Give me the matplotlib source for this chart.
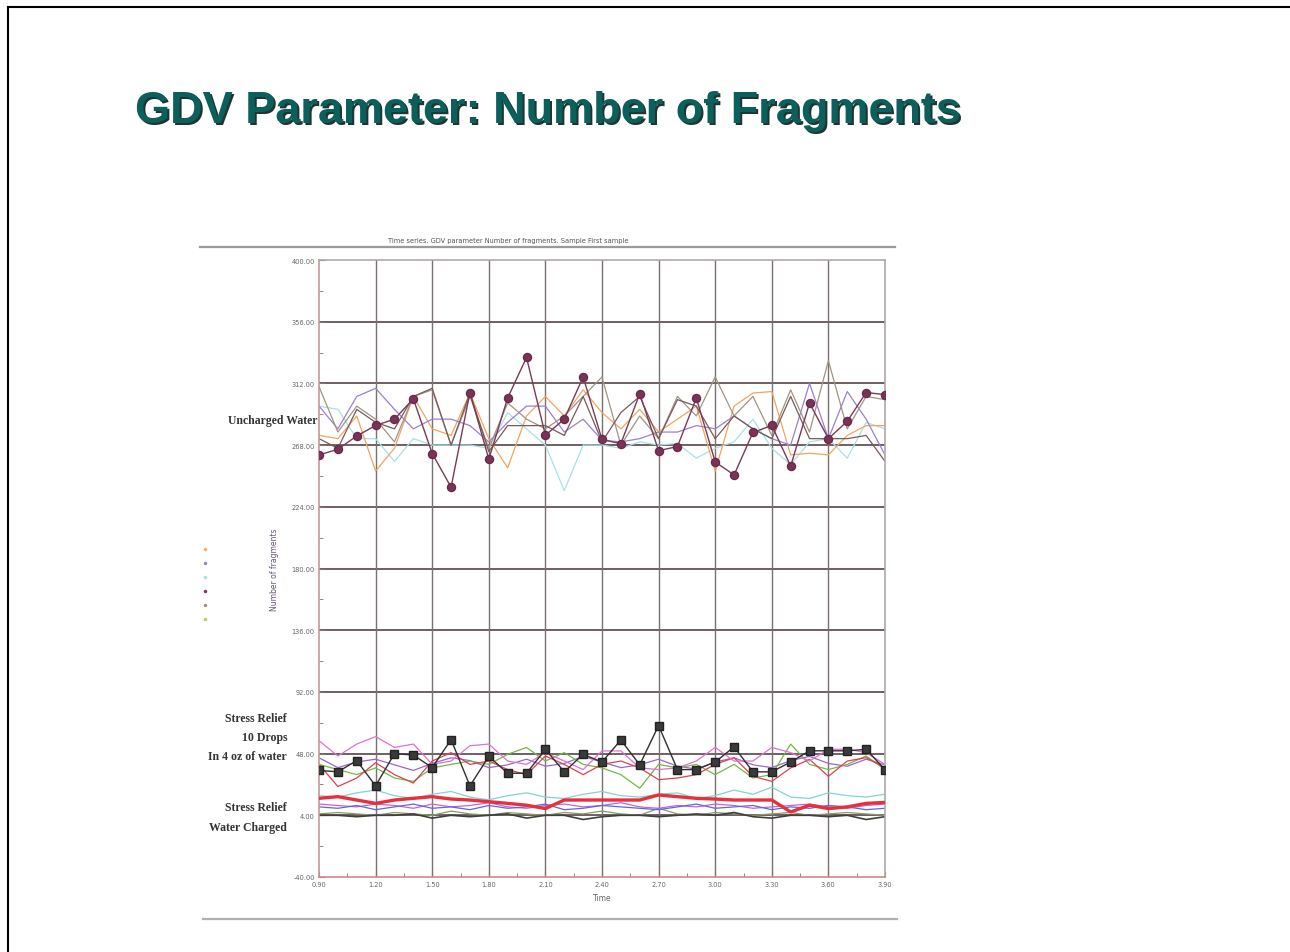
import matplotlib
matplotlib.use("Agg")
import matplotlib.pyplot as plt
from matplotlib.lines import Line2D
import numpy as np

# ---------------- data ----------------
time = [0.9, 1.0, 1.1, 1.2, 1.3, 1.4, 1.5, 1.6, 1.7, 1.8, 1.9, 2.0, 2.1, 2.2, 2.3, 2.4,
        2.5, 2.6, 2.7, 2.8, 2.9, 3.0, 3.1, 3.2, 3.3, 3.4, 3.5, 3.6, 3.7, 3.8, 3.9]

# Uncharged water group
unch_marked = [261, 265, 274.5, 282, 286.5, 301, 262, 238, 305.5, 258, 301.6, 330.5, 275, 286.5, 316.6, 272,
               269, 304.6, 264, 267, 301.6, 256, 246.7, 277, 282, 253, 298, 272.6, 285, 305.5, 304]
unch_orange = [275, 272.6, 288.8, 249.5, 265.7, 302.7, 279.6, 274.9, 305.1, 272.6, 251.8, 288.8, 302.7, 288.8, 307.4, 291.2,
               279.6, 293.5, 277.3, 286.5, 295.8, 249.5, 295.8, 305.1, 306.2, 261, 262.2, 261, 274.9, 281.9, 281.9]
unch_lavender = [295.8, 279.6, 302.7, 308.5, 293.5, 279.6, 286.5, 286.5, 281.9, 270.3, 284.2, 295.8, 295.8, 277.3, 286.5, 271.5,
                 270.3, 272.6, 277.3, 277.3, 281.9, 279.6, 288.8, 279.6, 272.6, 268, 312, 272.6, 306.2, 286.5, 261]
unch_cyan = [295.8, 293.5, 272.6, 272.6, 256.4, 272.6, 268, 268, 268, 265.7, 291.2, 279.6, 268, 235.6, 268, 268,
             265.7, 270.3, 268, 269.2, 258.7, 265.7, 270.3, 286.5, 265.7, 254.1, 270.3, 272.6, 258.7, 284.2, 279.6]
unch_olive = [309.7, 277.3, 295.8, 286.5, 270.3, 302.7, 307.4, 268, 302.7, 265.7, 298.1, 286.5, 279.6, 288.8, 302.7, 316.6,
              268, 288.8, 272.6, 302.7, 288.8, 316.6, 288.8, 302.7, 274.9, 307.4, 277.3, 328.2, 279.6, 302.7, 300.4]
unch_brown = [272.6, 265.7, 293.5, 284.2, 279.6, 302.7, 308.5, 268, 305.1, 263.4, 281.9, 281.9, 281.9, 274.9, 302.7, 270.3,
              291.2, 302.7, 272.6, 300.4, 295.8, 272.6, 288.8, 279.6, 272.6, 302.7, 272.6, 272.6, 272.6, 274.9, 256.4]

# Stress relief 10 drops group
drops_marked = [36, 35, 43, 25, 48, 47, 38, 58, 25, 46, 34, 34, 51, 35, 47.5, 42,
                57.7, 40, 68, 36.6, 36.6, 42, 52.8, 35, 35, 42, 50, 50, 50, 51, 36.6]
drops_pink = [57.2, 46.3, 54.8, 60.1, 52.4, 54.8, 40.3, 42.7, 53.6, 54.8, 42.7, 40.3, 48.7, 42.7, 36.6, 49.9,
              49.9, 37.8, 36.6, 37.8, 42.7, 52.4, 42.7, 42.7, 52.4, 48.7, 42.7, 51.1, 51.1, 48.7, 40.3]
drops_red = [40.3, 24.5, 30.6, 41.5, 33, 27, 42.7, 48.7, 40.3, 42.7, 36.6, 33, 46.3, 40.3, 33, 40.3,
             42.7, 37.8, 29.4, 30.6, 33, 40.3, 45.1, 31.8, 28.2, 37.8, 43.9, 31.8, 42.7, 45.1, 37.8]
drops_green = [40.3, 36.6, 33, 37.8, 30.6, 28.2, 37.8, 40.3, 42.7, 40.3, 47.5, 52.4, 42.7, 48.7, 40.3, 37.8,
               33, 23.3, 40.3, 37.8, 40.3, 33, 40.3, 30.6, 33, 54.8, 40.3, 36.6, 40.3, 46.3, 36.6]
drops_purple = [45, 38, 42, 44, 40, 36, 41, 45, 43, 38, 40, 44, 39, 41, 46, 42,
                38, 40, 44, 39, 37, 42, 45, 40, 38, 43, 46, 41, 39, 44, 40]

# Stress relief water charged group
charged_red = [16.1, 17.3, 14.9, 12.5, 14.9, 16.1, 17.3, 15.6, 14.9, 13.7, 12.5, 11.2, 8.8, 14.9, 14.9, 14.9,
               14.9, 14.9, 18.5, 17.3, 16.1, 15.6, 14.9, 14.9, 14.9, 6.4, 11.2, 8.8, 10, 12.5, 13.2]
charged_cyan = [18, 17, 20, 22, 18, 16, 19, 21, 17, 15, 18, 20, 17, 16, 19, 21,
                18, 17, 19, 20, 16, 18, 22, 19, 24, 17, 16, 20, 18, 17, 19]
charged_blue = [10, 9, 11, 8, 10, 12, 9, 10, 8, 11, 9, 10, 12, 8, 9, 11,
                10, 9, 8, 10, 12, 9, 10, 11, 8, 10, 9, 11, 10, 8, 9]
charged_magenta = [12, 11, 10, 12, 11, 9, 12, 10, 11, 13, 10, 9, 11, 12, 10, 11,
                   13, 10, 9, 11, 10, 12, 11, 9, 10, 11, 12, 10, 9, 11, 12]
charged_dark = [4, 4, 3, 4, 4, 5, 2, 4, 3, 4, 5, 2, 4, 4, 1, 3,
                4, 4, 3, 4, 5, 4, 6, 3, 2, 4, 4, 3, 4, 1, 3]
charged_olive = [5, 6, 5, 4, 6, 5, 4, 7, 5, 4, 6, 5, 4, 6, 5, 7,
                 5, 4, 9, 5, 4, 6, 5, 4, 5, 6, 4, 5, 6, 5, 4]

y_ticks = [400, 356, 312, 268, 224, 180, 136, 92, 48, 4, -40]
y_ticklabels = ["400.00", "356.00", "312.00", "268.00", "224.00", "180.00", "136.00",
                "92.00", "48.00", "4.00", "-40.00"]
x_ticks = [0.9, 1.2, 1.5, 1.8, 2.1, 2.4, 2.7, 3.0, 3.3, 3.6, 3.9]
x_ticklabels = ["0.90", "1.20", "1.50", "1.80", "2.10", "2.40", "2.70", "3.00", "3.30", "3.60", "3.90"]

slide_title = "GDV Parameter: Number of Fragments"
chart_title = "Time series. GDV parameter Number of fragments. Sample First sample"

# ---------------- figure ----------------
W, H = 1290, 953
fig = plt.figure(figsize=(W / 100, H / 100), dpi=100)
fig.patch.set_facecolor("white")

def fx(px):
    return px / W

def fy(py):
    return 1 - py / H

# slide border (top & left)
fig.add_artist(Line2D([fx(8), fx(8)], [fy(8), 0], color="black", lw=1.5, transform=fig.transFigure))
fig.add_artist(Line2D([fx(8), 1], [fy(8), fy(8)], color="black", lw=1.5, transform=fig.transFigure))

# slide title with shadow
for dx, dy, col in [(1.8, 1.8, "#223333"), (0, 0, "#0b605b")]:
    fig.text(fx(135 + dx), fy(112 + dy), slide_title, fontsize=32.5, fontweight="bold",
             family=["Liberation Sans", "DejaVu Sans"], color=col, ha="left", va="center")

# separator lines above/below chart
fig.add_artist(Line2D([fx(200), fx(895)], [fy(248), fy(248)], color="#9a9a9a", lw=1.6, transform=fig.transFigure))
fig.add_artist(Line2D([fx(203), fx(897)], [fy(920), fy(920)], color="#b0b0b0", lw=1.6, transform=fig.transFigure))

fig.text(fx(508), fy(241), chart_title, fontsize=4.8, color="#555555", ha="center", va="center")

# axes
ax = fig.add_axes([fx(319), fy(878), fx(885) - fx(319), (878 - 261) / H])
ax.set_xlim(0.9, 3.9)
ax.set_ylim(-40, 400)

# grid
for yv in y_ticks[1:-1]:
    ax.axhline(yv, color="#6e5f62", lw=1.4, zorder=1)
for xv in x_ticks[1:-1]:
    ax.axvline(xv, color="#7a7070", lw=1.0, zorder=1)

thin = 0.9
ax.plot(time, unch_cyan, color="#a8e2e2", lw=thin, zorder=2)
ax.plot(time, unch_orange, color="#f0a560", lw=thin, zorder=2)
ax.plot(time, unch_lavender, color="#9b80d2", lw=thin, zorder=2)
ax.plot(time, unch_olive, color="#a09482", lw=thin, zorder=2)
ax.plot(time, unch_brown, color="#7a5a5a", lw=thin, zorder=2)
ax.plot(time, unch_marked, color="#7a3a58", lw=1.0, marker="o", ms=5.8,
        mfc="#7a3358", mec="#6a2a48", zorder=4)

ax.plot(time, charged_olive, color="#8a9a60", lw=thin, zorder=2)
ax.plot(time, charged_dark, color="#404040", lw=1.2, zorder=2)
ax.plot(time, charged_magenta, color="#d060d0", lw=thin, zorder=2)
ax.plot(time, charged_blue, color="#5a68e0", lw=thin, zorder=2)
ax.plot(time, charged_cyan, color="#80d4d4", lw=thin, zorder=2)
ax.plot(time, charged_red, color="#e8303c", lw=2.4, zorder=3)

ax.plot(time, drops_purple, color="#9a68c8", lw=thin, zorder=2)
ax.plot(time, drops_green, color="#72b848", lw=thin, zorder=2)
ax.plot(time, drops_red, color="#e04050", lw=thin, zorder=2)
ax.plot(time, drops_pink, color="#e070d0", lw=thin, zorder=2)
ax.plot(time, drops_marked, color="#303030", lw=1.0, marker="s", ms=5.8,
        mfc="#3a3a3a", mec="#222222", zorder=4)

# spines
for side in ["top", "right"]:
    ax.spines[side].set_color("#b0a8a8")
    ax.spines[side].set_linewidth(1.2)
ax.spines["left"].set_color("#c09a9a")
ax.spines["bottom"].set_color("#d08a8a")
ax.spines["left"].set_linewidth(1.2)
ax.spines["bottom"].set_linewidth(1.2)

ax.set_yticks(y_ticks)
ax.set_yticklabels(y_ticklabels)
ax.set_xticks(x_ticks)
ax.set_xticklabels(x_ticklabels)
ax.set_yticks([378, 334, 290, 246, 202, 158, 114, 70, 26, -18], minor=True)
ax.set_xticks([1.05, 1.35, 1.65, 1.95, 2.25, 2.55, 2.85, 3.15, 3.45, 3.75], minor=True)
ax.tick_params(axis="both", which="major", labelsize=4.8, labelcolor="#666666",
               color="#8a7070", length=4, direction="in", pad=3)
ax.tick_params(axis="both", which="minor", color="#8a7070", length=3, direction="in")

ax.set_xlabel("Time", fontsize=5.5, color="#666666", labelpad=4)
ax.set_ylabel("Number of fragments", fontsize=5.5, color="#665577", labelpad=9)

# annotations
serif = ["Liberation Serif", "DejaVu Serif"]
fig.text(fx(318), fy(421), "Uncharged Water", fontsize=8.5, fontweight="bold", family=serif,
         color="#333333", ha="right", va="center")
for txt, py in [("Stress Relief", 719), ("10 Drops", 738), ("In 4 oz of water", 757)]:
    fig.text(fx(287), fy(py), txt, fontsize=8.5, fontweight="bold", family=serif,
             color="#333333", ha="right", va="center")
for txt, py in [("Stress Relief", 808), ("Water Charged", 828)]:
    fig.text(fx(287), fy(py), txt, fontsize=8.5, fontweight="bold", family=serif,
             color="#333333", ha="right", va="center")

# faint legend remnants
legend_cols = ["#f0b070", "#9b80d2", "#a8e2e2", "#7a3a58", "#a09482", "#c8c070"]
for i, c in enumerate(legend_cols):
    fig.add_artist(Line2D([fx(205)], [fy(550 + 14 * i)], marker="o", ms=1.5, color=c,
                          lw=0, transform=fig.transFigure))

fig.savefig("out.png", dpi=100, facecolor="white")
